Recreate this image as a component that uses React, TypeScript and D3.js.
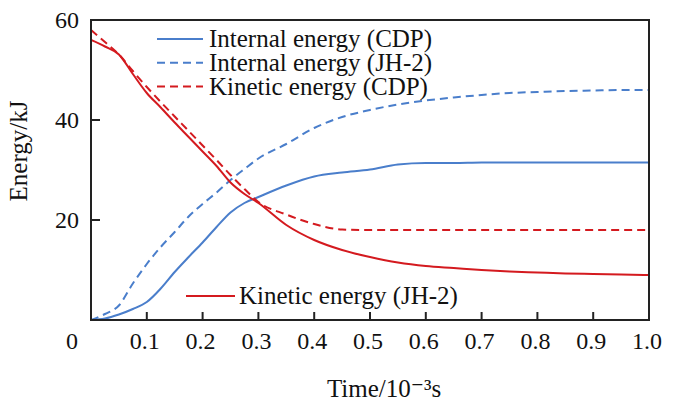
import React from "react";
import * as d3 from "d3";

const times = [
  0, 0.025, 0.05, 0.075, 0.1, 0.125, 0.15, 0.175, 0.2, 0.225, 0.25, 0.275,
  0.3, 0.35, 0.4, 0.45, 0.5, 0.55, 0.6, 0.65, 0.7, 0.75, 0.8, 0.85, 0.9, 0.95,
  1.0,
];
const internalCDP = [
  0, 0.3, 1.1, 2.2, 3.6, 6.3, 9.6, 12.6, 15.5, 18.6, 21.5, 23.4, 24.6, 26.9,
  28.7, 29.5, 30.1, 31.1, 31.4, 31.4, 31.5, 31.5, 31.5, 31.5, 31.5, 31.5, 31.5,
];
const internalJH2 = [
  0, 1.2, 2.9, 7.3, 11.2, 14.6, 17.6, 20.7, 23.2, 25.5, 28.0, 30.2, 32.3,
  35.2, 38.4, 40.6, 42.0, 43.1, 43.9, 44.5, 45.0, 45.4, 45.6, 45.8, 45.9, 46.0,
  46.0,
];
const kineticCDP = [
  58, 55.6, 53.1, 49.8, 46.6, 43.6, 40.7, 37.8, 34.9, 32.0, 29.0, 26.2, 23.6,
  21.1, 19.2, 18.1, 18.0, 18.0, 18.0, 18.0, 18.0, 18.0, 18.0, 18.0, 18.0, 18.0,
  18.0,
];
const kineticJH2 = [
  56, 54.7, 53.1, 49.2, 45.4, 42.5, 39.5, 36.6, 33.7, 30.8, 27.5, 25.2, 23.4,
  19.0, 16.0, 14.0, 12.6, 11.5, 10.8, 10.4, 10.0, 9.7, 9.5, 9.3, 9.2, 9.1, 9.0,
];
const xTicks = [0.1, 0.2, 0.3, 0.4, 0.5, 0.6, 0.7, 0.8, 0.9, 1.0];
const yTicks = [20, 40, 60];

const BLUE = "#4a7ecb";
const RED = "#d41a1f";
const FONT = "Liberation Serif, Tinos, Times New Roman, Times, DejaVu Serif, serif";

const series = [
  { label: "Internal energy (CDP)", values: internalCDP, color: BLUE, dash: null },
  { label: "Internal energy (JH-2)", values: internalJH2, color: BLUE, dash: "8,5" },
  { label: "Kinetic energy (CDP)", values: kineticCDP, color: RED, dash: "8,5" },
  { label: "Kinetic energy (JH-2)", values: kineticJH2, color: RED, dash: null },
];

const App = () => {
  const width = 673;
  const height = 403;
  const margins = { top: 20, right: 24, bottom: 83, left: 91 };

  const xScale = d3
    .scaleLinear()
    .domain([0, 1])
    .range([margins.left, width - margins.right]);
  const yScale = d3
    .scaleLinear()
    .domain([0, 60])
    .range([height - margins.bottom, margins.top]);

  const line = d3
    .line<number>()
    .x((d, i) => xScale(times[i]))
    .y((d) => yScale(d))
    .curve(d3.curveMonotoneX);

  const x0 = xScale(0);
  const x1 = xScale(1);
  const y0 = yScale(0);
  const y1 = yScale(60);
  const txt = { fontFamily: FONT, fill: "#111" };

  return (
    <svg
      width={width}
      height={height}
      style={{ position: "absolute", left: 0, top: 0, background: "#fff", fontFamily: FONT }}
    >
      <defs>
        <clipPath id="plot">
          <rect x={x0} y={y1} width={x1 - x0} height={y0 - y1} />
        </clipPath>
      </defs>

      {/* curves */}
      <g clipPath="url(#plot)">
        {series.map((s) => (
          <path
            key={s.label}
            d={line(s.values)}
            fill="none"
            stroke={s.color}
            strokeWidth={2}
            strokeDasharray={s.dash || undefined}
          />
        ))}
      </g>

      {/* ticks */}
      {xTicks.slice(0, -1).map((t) => (
        <line
          key={"xt" + t}
          x1={xScale(t)}
          x2={xScale(t)}
          y1={y0}
          y2={y0 - 8}
          stroke="#222"
          strokeWidth={2}
        />
      ))}
      {yTicks.slice(0, -1).map((t) => (
        <line
          key={"yt" + t}
          x1={x0}
          x2={x0 + 9}
          y1={yScale(t)}
          y2={yScale(t)}
          stroke="#222"
          strokeWidth={2}
        />
      ))}

      {/* frame */}
      <rect
        x={x0}
        y={y1}
        width={x1 - x0}
        height={y0 - y1}
        fill="none"
        stroke="#222"
        strokeWidth={2}
      />

      {/* tick labels */}
      <g style={{ ...txt, fontSize: 24 }}>
        {xTicks.map((t) => (
          <text key={"xl" + t} x={xScale(t) - 2} y={349} textAnchor="middle">
            {t.toFixed(1)}
          </text>
        ))}
        <text x={72} y={349} textAnchor="middle">
          0
        </text>
        {yTicks.map((t) => (
          <text key={"yl" + t} x={79} y={yScale(t) + 8} textAnchor="end">
            {t}
          </text>
        ))}
      </g>

      {/* axis titles */}
      <text x={384} y={397} textAnchor="middle" style={{ ...txt, fontSize: 25 }}>
        Time/10⁻³s
      </text>
      <text
        transform="translate(27,151) rotate(-90)"
        textAnchor="middle"
        style={{ ...txt, fontSize: 25 }}
      >
        Energy/kJ
      </text>

      {/* legend */}
      <g style={{ ...txt, fontSize: 25 }}>
        {series.slice(0, 3).map((s, i) => (
          <g key={"lg" + s.label} transform={`translate(0,${39 + i * 23.8})`}>
            <line
              x1={157}
              x2={203}
              y1={0}
              y2={0}
              stroke={s.color}
              strokeWidth={2}
              strokeDasharray={s.dash || undefined}
            />
            <text x={209} y={8}>
              {s.label}
            </text>
          </g>
        ))}
        <g transform="translate(0,296)">
          <line
            x1={186}
            x2={235}
            y1={0}
            y2={0}
            stroke={series[3].color}
            strokeWidth={2}
          />
          <text x={239} y={7.5}>
            {series[3].label}
          </text>
        </g>
      </g>
    </svg>
  );
};

export default App;
